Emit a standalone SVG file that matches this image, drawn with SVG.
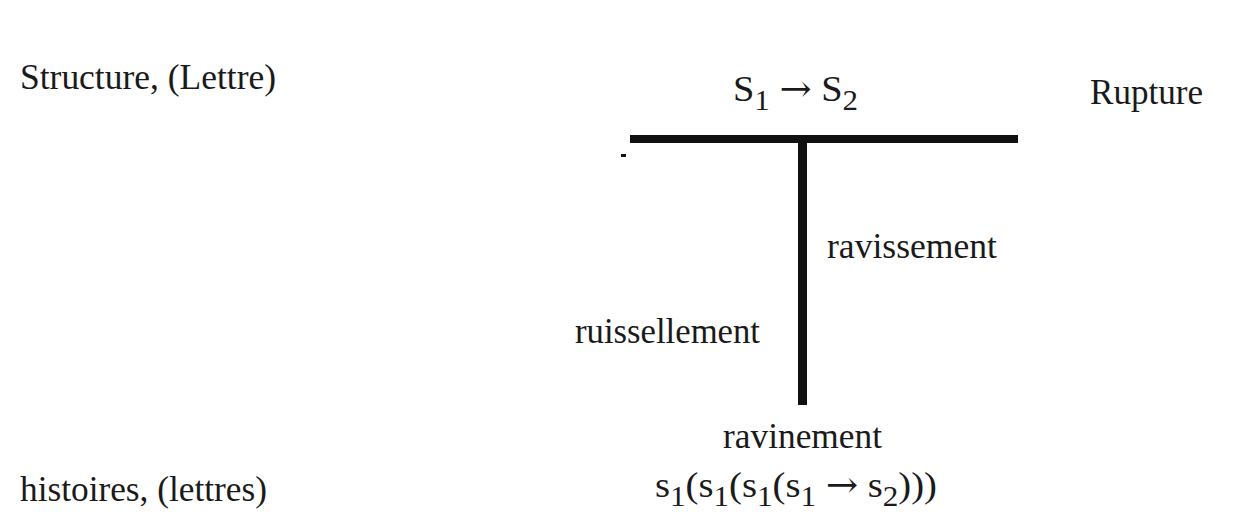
<svg xmlns="http://www.w3.org/2000/svg" width="1239" height="527" viewBox="0 0 1239 527">
<style>
.t{font-family:"Liberation Serif","Times New Roman",serif;font-size:36px;fill:#1a1a1a}
.sub{font-size:29px}
.ar{font-family:"DejaVu Serif","DejaVu Sans",serif}
.bar{fill:#111}
</style>
<rect width="1239" height="527" fill="#fff"/>
<g id="structure"><text class="t" x="20" y="89" textLength="256" lengthAdjust="spacingAndGlyphs">Structure, (Lettre)</text></g>
<g id="s1s2"><text class="t" x="733" y="101" textLength="125" lengthAdjust="spacingAndGlyphs">S<tspan class="sub" dy="9">1</tspan><tspan dy="-9"> </tspan><tspan class="ar">→</tspan> S<tspan class="sub" dy="9">2</tspan></text></g>
<g id="rupture"><text class="t" x="1090" y="104" textLength="113" lengthAdjust="spacingAndGlyphs">Rupture</text></g>
<g id="connectors">
<rect class="bar" x="630" y="135" width="388" height="8"/>
<rect class="bar" x="798" y="142" width="9" height="263"/>
<rect class="bar" x="621" y="154" width="5" height="3"/>
</g>
<g id="ravissement"><text class="t" x="827" y="258" textLength="170" lengthAdjust="spacingAndGlyphs">ravissement</text></g>
<g id="ruissellement"><text class="t" x="575" y="343" textLength="185" lengthAdjust="spacingAndGlyphs">ruissellement</text></g>
<g id="ravinement"><text class="t" x="723" y="448" textLength="159" lengthAdjust="spacingAndGlyphs">ravinement</text></g>
<g id="histoires"><text class="t" x="20" y="501" textLength="247" lengthAdjust="spacingAndGlyphs">histoires, (lettres)</text></g>
<g id="formula"><text class="t" x="655" y="497" textLength="282" lengthAdjust="spacingAndGlyphs">s<tspan class="sub" dy="9">1</tspan><tspan dy="-9">(s</tspan><tspan class="sub" dy="9">1</tspan><tspan dy="-9">(s</tspan><tspan class="sub" dy="9">1</tspan><tspan dy="-9">(s</tspan><tspan class="sub" dy="9">1</tspan><tspan dy="-9"> </tspan><tspan class="ar">→</tspan> s<tspan class="sub" dy="9">2</tspan><tspan dy="-9">)))</tspan></text></g>
</svg>
